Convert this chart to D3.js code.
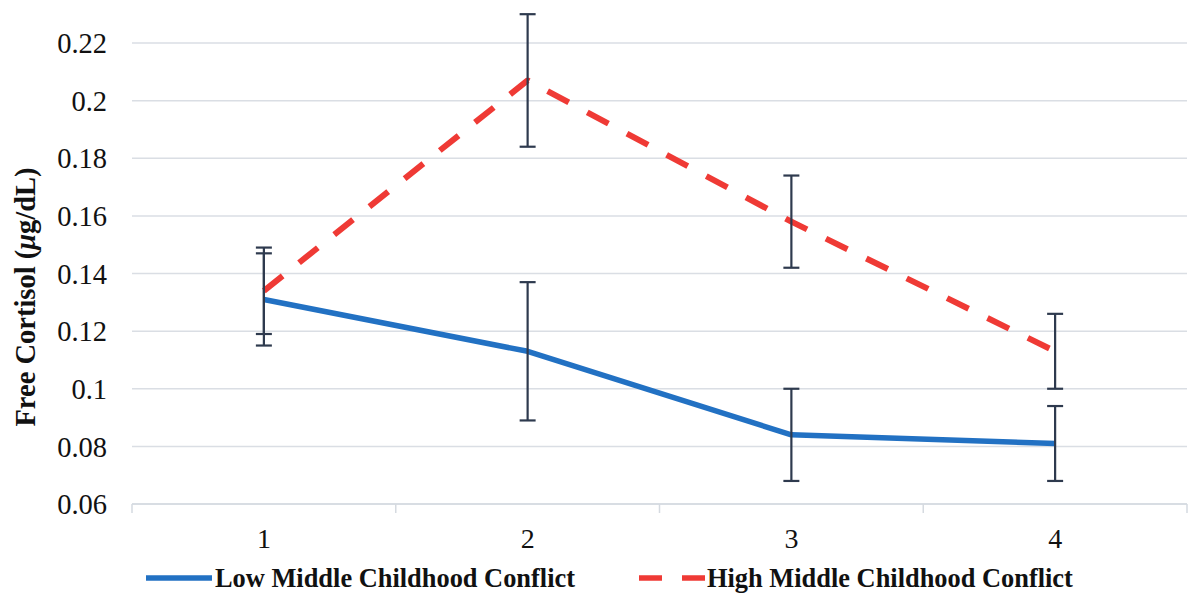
<!DOCTYPE html>
<html>
<head>
<meta charset="utf-8">
<script src="https://cdn.jsdelivr.net/npm/d3@7"></script>
<style>
  html, body { margin: 0; padding: 0; background: #ffffff; }
  svg { display: block; }
</style>
</head>
<body>
<svg id="chart" width="1188" height="594"></svg>
<script>
// Time points and cortisol means with error-bar half widths
const timePoints = ["1", "2", "3", "4"];
const lowMeans = [0.131, 0.113, 0.084, 0.081];
const lowErrors = [0.016, 0.024, 0.016, 0.013];
const highMeans = [0.134, 0.207, 0.158, 0.113];
const highErrors = [0.015, 0.023, 0.016, 0.013];
const yTicks = [0.06, 0.08, 0.1, 0.12, 0.14, 0.16, 0.18, 0.2, 0.22];
const seriesNames = ["Low Middle Childhood Conflict", "High Middle Childhood Conflict"];

const series = [
  { name: seriesNames[0], means: lowMeans, errors: lowErrors, color: "#2271c3", dash: null },
  { name: seriesNames[1], means: highMeans, errors: highErrors, color: "#ef3a35", dash: "24,21" }
];

const svg = d3.select("#chart");
const plot = { left: 132, right: 1187, top: 43, bottom: 504 };
const serif = "'Liberation Serif', 'Times New Roman', serif";

const x = d3.scaleBand().domain(timePoints).range([plot.left, plot.right]).padding(0);
const y = d3.scaleLinear().domain([0.06, 0.22]).range([plot.bottom, plot.top]);
const cx = d => x(d) + x.bandwidth() / 2;

// Horizontal gridlines
svg.append("g")
  .selectAll("line")
  .data(yTicks)
  .join("line")
  .attr("x1", plot.left).attr("x2", plot.right)
  .attr("y1", d => y(d)).attr("y2", d => y(d))
  .attr("stroke", "#dadee4").attr("stroke-width", 1.5);

// Y axis labels
const yAxis = svg.append("g")
  .attr("transform", `translate(${plot.left - 25},0)`)
  .call(d3.axisLeft(y).tickValues(yTicks).tickSize(0).tickPadding(0).tickFormat(d3.format("")));
yAxis.select(".domain").remove();
yAxis.selectAll("text")
  .attr("font-family", serif).attr("font-size", 28.5).attr("fill", "#111")
  .attr("dy", "0.34em");

// X axis with tick marks at category boundaries
const xAxis = svg.append("g").attr("transform", `translate(0,${plot.bottom})`);
xAxis.append("line")
  .attr("x1", plot.left).attr("x2", plot.right)
  .attr("stroke", "#d5dae0").attr("stroke-width", 1.5);
const boundaries = timePoints.map(d => x(d)).concat([plot.right]);
xAxis.selectAll("line.tick")
  .data(boundaries)
  .join("line").attr("class", "tick")
  .attr("x1", d => d).attr("x2", d => d)
  .attr("y1", 0).attr("y2", 9)
  .attr("stroke", "#d5dae0").attr("stroke-width", 1.5);
xAxis.selectAll("text")
  .data(timePoints)
  .join("text")
  .attr("x", d => cx(d)).attr("y", 44)
  .attr("text-anchor", "middle")
  .attr("font-family", serif).attr("font-size", 28).attr("fill", "#111")
  .text(d => d);

// Y axis title
svg.append("text")
  .attr("transform", `translate(35,297) rotate(-90)`)
  .attr("text-anchor", "middle")
  .attr("font-family", serif).attr("font-size", 28.5).attr("font-weight", "bold").attr("fill", "#111")
  .call(t => {
    t.append("tspan").text("Free Cortisol (");
    t.append("tspan").attr("font-style", "italic").text("μ");
    t.append("tspan").text("g/dL)");
  });

// Series lines
const line = d3.line().x((d, i) => cx(timePoints[i])).y(d => y(d));
series.forEach(s => {
  svg.append("path")
    .datum(s.means)
    .attr("d", line)
    .attr("fill", "none")
    .attr("stroke", s.color)
    .attr("stroke-width", s.dash ? 6 : 5.5)
    .attr("stroke-dasharray", s.dash)
    .attr("stroke-linejoin", "round");
});

// Error bars
const capHalf = 8;
series.forEach(s => {
  const g = svg.append("g").attr("stroke", "#2e3a4e").attr("stroke-width", 2.2);
  s.means.forEach((m, i) => {
    const px = cx(timePoints[i]);
    const top = y(m + s.errors[i]);
    const bot = y(m - s.errors[i]);
    g.append("line").attr("x1", px).attr("x2", px).attr("y1", top).attr("y2", bot);
    g.append("line").attr("x1", px - capHalf).attr("x2", px + capHalf).attr("y1", top).attr("y2", top);
    g.append("line").attr("x1", px - capHalf).attr("x2", px + capHalf).attr("y1", bot).attr("y2", bot);
  });
});

// Legend
const legendY = 578;
const legendItems = [
  { s: series[0], x0: 146, x1: 212, tx: 215 },
  { s: series[1], x0: 639, x1: 705, tx: 707 }
];
legendItems.forEach(item => {
  svg.append("line")
    .attr("x1", item.x0).attr("x2", item.x1)
    .attr("y1", legendY).attr("y2", legendY)
    .attr("stroke", item.s.color).attr("stroke-width", 5.5)
    .attr("stroke-dasharray", item.s.dash ? "23,20" : null);
  svg.append("text")
    .attr("x", item.tx).attr("y", legendY).attr("dy", "0.34em")
    .attr("font-family", serif).attr("font-size", 26.4).attr("font-weight", "bold").attr("fill", "#111")
    .text(item.s.name);
});
</script>
</body>
</html>
